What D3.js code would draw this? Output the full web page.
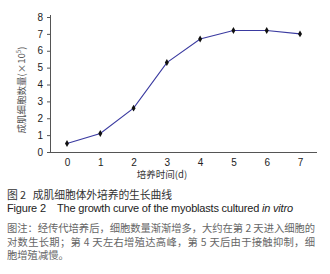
<!DOCTYPE html>
<html>
<head>
<meta charset="utf-8">
<script src="https://cdn.jsdelivr.net/npm/d3@7"></script>
<style>
  body { margin: 0; background: #fff; }
  svg { display: block; }
  text { white-space: pre; }
  .tick text { font-family: Arial, "Liberation Sans", sans-serif; font-size: 10px; fill: #222; }
  .cap { font-family: "Noto Sans CJK SC", sans-serif; }
</style>
</head>
<body>
<svg width="330" height="274"></svg>
<script>
// culture days and cell counts (x10^5)
const days = [0, 1, 2, 3, 4, 5, 6, 7];
const counts = [0.5, 1.1, 2.6, 5.3, 6.7, 7.2, 7.2, 7.0];
const yTicks = [0, 1, 2, 3, 4, 5, 6, 7, 8];

const svg = d3.select("svg");

const x = d3.scaleLinear().domain([0, 7]).range([67, 300]);
const y = d3.scaleLinear().domain([0, 8]).range([152, 17]);

// axes
svg.append("g")
    .attr("transform", "translate(51,0)")
    .call(d3.axisLeft(y).tickValues(yTicks).tickSize(4).tickPadding(4).tickFormat(d3.format("d")))
    .call(g => g.select(".domain").attr("stroke", "#555").attr("d", "M-0.5,15V152.5"))
    .call(g => g.selectAll(".tick line").attr("stroke", "#555"));

svg.append("g")
    .attr("transform", "translate(0,152)")
    .call(d3.axisBottom(x).tickValues(days).tickSize(0).tickPadding(7).tickFormat(d3.format("d")))
    .call(g => g.select(".domain").attr("stroke", "#555").attr("d", "M51,0.5H317"));

// axis titles
svg.append("text")
    .attr("class", "cap")
    .attr("x", 162).attr("y", 178)
    .attr("text-anchor", "middle")
    .attr("font-size", 9.5).attr("fill", "#333")
    .text("培养时间(d)");

svg.append("text")
    .attr("class", "cap")
    .attr("transform", "translate(25,90) rotate(-90)")
    .attr("text-anchor", "middle")
    .attr("font-size", 9.5).attr("fill", "#555")
    .html("成肌细胞数量(×10<tspan baseline-shift='super' font-size='6'>5</tspan>)");

// growth curve
const line = d3.line().x((d, i) => x(days[i])).y(d => y(d));
svg.append("path")
    .datum(counts)
    .attr("fill", "none")
    .attr("stroke", "#3a3aa0")
    .attr("stroke-width", 1.1)
    .attr("d", line);

svg.selectAll(".pt")
    .data(counts)
    .enter()
    .append("path")
    .attr("class", "pt")
    .attr("transform", (d, i) => `translate(${x(days[i])},${y(d)})`)
    .attr("d", d3.symbol(d3.symbolDiamond, 14))
    .attr("fill", "#111");

// caption
const cap = svg.append("g").attr("class", "cap");
cap.append("text").attr("x", 7).attr("y", 199)
    .attr("font-size", 10.8).attr("fill", "#333")
    .attr("textLength", 165)
    .text("图 2   成肌细胞体外培养的生长曲线");
cap.append("text").attr("x", 7).attr("y", 212)
    .attr("font-family", "Arial, 'Liberation Sans', sans-serif")
    .attr("font-size", 11).attr("fill", "#222")
    .attr("textLength", 286)
    .html("Figure 2    The growth curve of the myoblasts cultured <tspan font-style='italic'>in vitro</tspan>");

const notes = [
  "图注：经传代培养后，细胞数量渐渐增多，大约在第 2 天进入细胞的",
  "对数生长期；第 4 天左右增殖达高峰，第 5 天后由于接触抑制，细",
  "胞增殖减慢。"
];
cap.selectAll(".note")
    .data(notes)
    .enter()
    .append("text")
    .attr("x", 7)
    .attr("y", (d, i) => 232 + i * 13.5)
    .attr("font-size", 10.3).attr("fill", "#666")
    .attr("textLength", (d, i) => i < 2 ? 308 : null)
    .text(d => d);
</script>
</body>
</html>
